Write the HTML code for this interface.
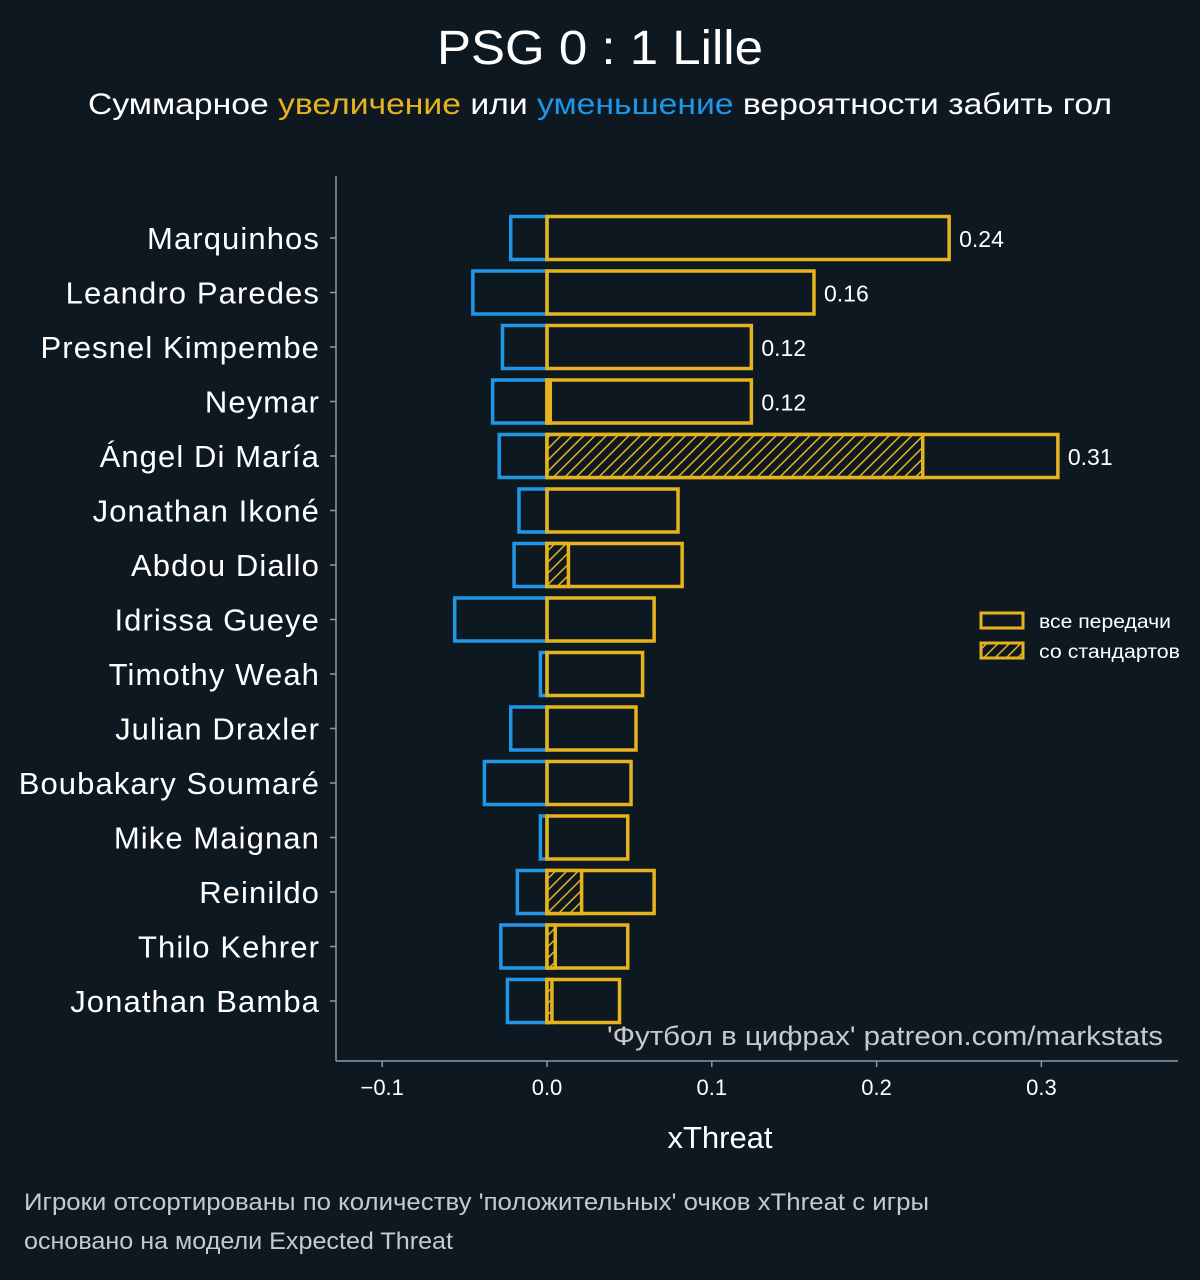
<!DOCTYPE html>
<html><head><meta charset="utf-8"><style>
body{margin:0;background:#0e1821;}
svg text{font-family:"Liberation Sans","DejaVu Sans",sans-serif;}
</style></head><body>
<svg id="chart" width="1200" height="1275" xmlns="http://www.w3.org/2000/svg">
<defs>
<pattern id="hatch" patternUnits="userSpaceOnUse" width="8" height="8" patternTransform="rotate(45)">
<rect width="8" height="8" fill="#0e1821"/><line x1="0" y1="0" x2="0" y2="8" stroke="#e6b31e" stroke-width="3"/>
</pattern>
</defs>
<rect width="1200" height="1275" fill="#0e1821"/>
<text x="437" y="64" textLength="326" lengthAdjust="spacingAndGlyphs" font-size="48" fill="#fff">PSG 0 : 1 Lille</text>
<text x="88" y="114" textLength="1024" lengthAdjust="spacingAndGlyphs" font-size="30" fill="#fff">Суммарное <tspan fill="#e6b31e">увеличение</tspan> или <tspan fill="#1f96e6">уменьшение</tspan> вероятности забить гол</text>
<g id="plot"></g>
<line x1="336" y1="176" x2="336" y2="1061" stroke="#8a9aa5" stroke-width="1.5"/>
<line x1="336" y1="1061" x2="1178" y2="1061" stroke="#8a9aa5" stroke-width="1.5"/>
<text x="720" y="1148" text-anchor="middle" font-size="31" fill="#fff">xThreat</text>
<text x="607" y="1045" textLength="556" lengthAdjust="spacingAndGlyphs" font-size="27" fill="#c9c9c9">'Футбол в цифрах' patreon.com/markstats</text>
<g>
<rect x="981" y="613" width="42" height="15" fill="none" stroke="#e6b31e" stroke-width="3"/>
<text x="1039" y="628" textLength="132" lengthAdjust="spacingAndGlyphs" font-size="19" fill="#fff">все передачи</text>
<rect x="981" y="643" width="42" height="15" fill="url(#hatch)" stroke="#e6b31e" stroke-width="3"/>
<text x="1039" y="658" textLength="141" lengthAdjust="spacingAndGlyphs" font-size="19" fill="#fff">со стандартов</text>
</g>
<text x="24" y="1210" textLength="905" lengthAdjust="spacingAndGlyphs" font-size="24" fill="#c9c9c9">Игроки отсортированы по количеству 'положительных' очков xThreat с игры</text>
<text x="24" y="1249" textLength="429" lengthAdjust="spacingAndGlyphs" font-size="24" fill="#c9c9c9">основано на модели Expected Threat</text>
</svg>
<script>
const players=["Marquinhos","Leandro Paredes","Presnel Kimpembe","Neymar","Ángel Di María","Jonathan Ikoné","Abdou Diallo","Idrissa Gueye","Timothy Weah","Julian Draxler","Boubakary Soumaré","Mike Maignan","Reinildo","Thilo Kehrer","Jonathan Bamba"];
const positive=[0.244,0.162,0.124,0.124,0.310,0.0795,0.082,0.065,0.058,0.054,0.051,0.049,0.065,0.049,0.044];
const negative=[-0.022,-0.045,-0.027,-0.033,-0.029,-0.017,-0.020,-0.056,-0.004,-0.022,-0.038,-0.004,-0.018,-0.028,-0.024];
const setPiece=[0,0,0,0.002,0.228,0,0.013,0,0,0,0,0,0.021,0.005,0.003];
const xTicks=[-0.1,0,0.1,0.2,0.3];
const xTickLabels=["−0.1","0.0","0.1","0.2","0.3"];
const NS="http://www.w3.org/2000/svg";
const g=document.getElementById('plot');
const x=v=>547+v*1648;
const y=i=>238+i*54.5;
const bh=43;
function mk(tag,attrs){const e=document.createElementNS(NS,tag);for(const k in attrs)e.setAttribute(k,attrs[k]);g.appendChild(e);return e;}
xTicks.forEach((t,i)=>{
  const l=mk('line',{x1:x(t),x2:x(t),y1:1061,y2:1067,stroke:'#8a9aa5','stroke-width':1.5});
  
  
  const tx=mk('text',{x:x(t),y:1095,'text-anchor':'middle','font-size':22,fill:'#fff'});
  tx.textContent=xTickLabels[i];
  
  
});
players.forEach((p,i)=>{
  const cy=y(i);
  const tk=mk('line',{x1:330,x2:336,y1:cy,y2:cy,stroke:'#8a9aa5','stroke-width':1.5});
  
  
  const lab=mk('text',{x:320,y:cy+11,'text-anchor':'end','font-size':31,fill:'#fff','letter-spacing':'1.1'});
  lab.textContent=p;
  
  
  const nb=mk('rect',{x:x(negative[i]),y:cy-bh/2,width:x(0)-x(negative[i]),height:bh,fill:'none',stroke:'#1f96e6','stroke-width':3.5});
  
  
  const pb=mk('rect',{x:x(0),y:cy-bh/2,width:x(positive[i])-x(0),height:bh,fill:'none',stroke:'#e6b31e','stroke-width':3.5});
  
  
  if(setPiece[i]>0){
    const sb=mk('rect',{x:x(0),y:cy-bh/2,width:x(setPiece[i])-x(0),height:bh,fill:'url(#hatch)',stroke:'#e6b31e','stroke-width':3.5});
    
    
  }
  if(positive[i]>0.1){
    const vl=mk('text',{x:x(positive[i])+10,y:cy+9,'font-size':23,fill:'#fff'});
    vl.textContent=positive[i].toFixed(2);
    
    
  }
});
</script>
</body></html>
